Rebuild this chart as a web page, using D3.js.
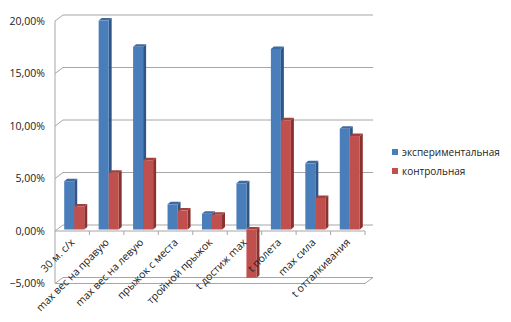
<!DOCTYPE html>
<html lang="ru">
<head>
<meta charset="UTF-8">
<title>Chart</title>
<script src="https://d3js.org/d3.v7.min.js"></script>
<style>
    body { margin: 0; background: white; }
    svg text { font-family: "Open Sans", "DejaVu Sans", sans-serif; fill: #222; }
</style>
</head>
<body>
<div id="chart"></div>
<script>
    const categories = ["30 м. с/х", "max вес на правую", "max вес на левую", "прыжок с места",
        "тройной прыжок", "t достиж max", "t полета", "max сила", "t отталкивания"];
    const seriesNames = ["экспериментальная", "контрольная"];
    const experimental = [4.6, 19.9, 17.4, 2.4, 1.5, 4.4, 17.2, 6.3, 9.6];
    const control = [2.2, 5.4, 6.6, 1.8, 1.4, -4.6, 10.4, 3.0, 8.9];
    const yTicks = [-5, 0, 5, 10, 15, 20];

    const width = 511, height = 322;
    // 3D offsets: back wall relative to front plane, bar front and bar depth
    const DX = 8, DY = -6;
    const BX = 2, BY = -1.5;
    const BD = 3, BDY = -2.5;

    const colors = {
        "экспериментальная": { front: "#4a7ebb", side: "#2f5687", top: "#3d6aa3" },
        "контрольная": { front: "#c0504d", side: "#8a3230", top: "#a3403d" }
    };

    const svg = d3.select("#chart").append("svg")
        .attr("width", width)
        .attr("height", height);

    const x = d3.scaleBand().domain(categories).range([55, 365]);
    const x1 = d3.scaleBand().domain(seriesNames).range([0, x.bandwidth()]).paddingOuter(0.72);
    const y = d3.scaleLinear().domain([-5, 20]).range([283.5, 21]);

    const fmt = v => d3.format(".2f")(v).replace(".", ",") + "%";
    const grid = "#a6a6a6";

    // walls and gridlines
    const walls = svg.append("g").attr("fill", "none").attr("stroke", grid).attr("stroke-width", 1);
    yTicks.forEach(t => {
        walls.append("line")
            .attr("x1", 55).attr("y1", y(t)).attr("x2", 55 + DX).attr("y2", y(t) + DY);
        walls.append("line")
            .attr("x1", 55 + DX).attr("y1", y(t) + DY).attr("x2", 365 + DX).attr("y2", y(t) + DY);
    });
    walls.append("line").attr("x1", 55).attr("y1", y(20)).attr("x2", 55).attr("y2", y(-5));
    // floor front edge at the bottom
    walls.append("line").attr("x1", 55).attr("y1", y(-5)).attr("x2", 365).attr("y2", y(-5));
    walls.append("line").attr("x1", 365).attr("y1", y(-5)).attr("x2", 365 + DX).attr("y2", y(-5) + DY);

    // category axis at zero
    walls.append("line").attr("x1", 55).attr("y1", y(0)).attr("x2", 365).attr("y2", y(0));
    categories.forEach(c => {
        walls.append("line")
            .attr("x1", x(c) + x.bandwidth()).attr("y1", y(0))
            .attr("x2", x(c) + x.bandwidth()).attr("y2", y(0) + 4);
    });

    // y labels
    svg.append("g").selectAll("text")
        .data(yTicks)
        .join("text")
        .attr("x", 45)
        .attr("y", d => y(d))
        .attr("dy", "0.35em")
        .attr("text-anchor", "end")
        .attr("font-size", 10.5)
        .text(fmt);

    // bars
    const bars = svg.append("g");
    categories.forEach((c, i) => {
        const vals = [experimental[i], control[i]];
        seriesNames.forEach((s, j) => {
            const v = vals[j];
            const col = colors[s];
            const bx = x(c) + x1(s) + BX;
            const w = x1.bandwidth();
            const top = Math.min(y(v), y(0)) + BY;
            const bot = Math.max(y(v), y(0)) + BY;
            const capY = v >= 0 ? top : y(0) + BY;
            bars.append("path")
                .attr("d", `M${bx + w},${top}L${bx + w + BD},${top + BDY}L${bx + w + BD},${bot + BDY}L${bx + w},${bot}Z`)
                .attr("fill", col.side);
            bars.append("path")
                .attr("d", `M${bx},${capY}L${bx + BD},${capY + BDY}L${bx + w + BD},${capY + BDY}L${bx + w},${capY}Z`)
                .attr("fill", col.top);
            bars.append("rect")
                .attr("x", bx).attr("y", top)
                .attr("width", w).attr("height", bot - top)
                .attr("fill", col.front);
        });
    });

    // category labels
    svg.append("g").selectAll("text")
        .data(categories)
        .join("text")
        .attr("transform", d => `translate(${x(d) + x.bandwidth() / 2 + 3},${243}) rotate(-45)`)
        .attr("text-anchor", "end")
        .attr("font-size", 10.5)
        .text(d => d);

    // legend
    const legend = svg.append("g");
    seriesNames.forEach((s, i) => {
        const ly = 152 + i * 19;
        legend.append("rect")
            .attr("x", 392).attr("y", ly - 3)
            .attr("width", 6).attr("height", 6)
            .attr("fill", colors[s].front);
        legend.append("text")
            .attr("x", 402).attr("y", ly)
            .attr("dy", "0.35em")
            .attr("font-size", 10)
            .text(s);
    });
</script>
</body>
</html>
